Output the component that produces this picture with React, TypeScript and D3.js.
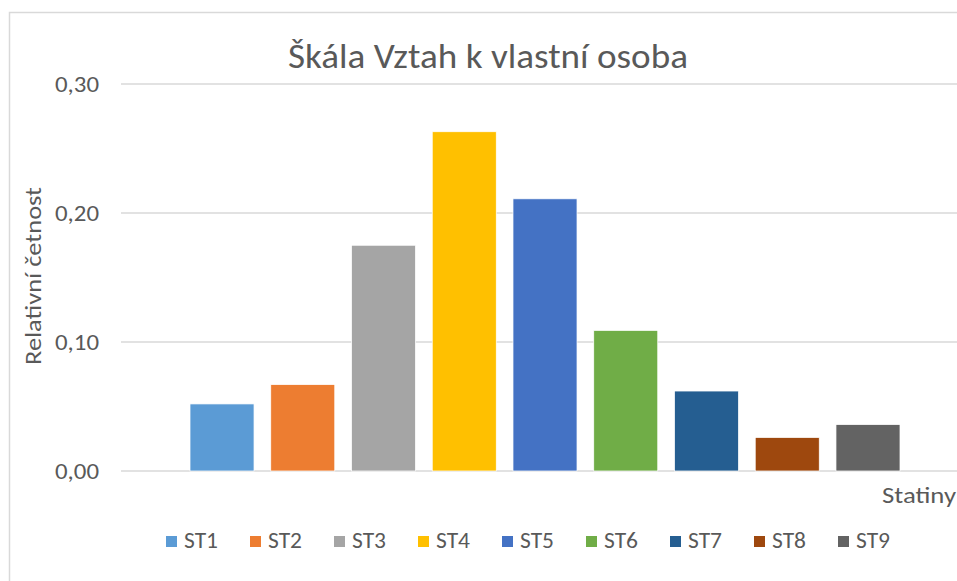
import React from "react";
import * as d3 from "d3";

const series = ["ST1", "ST2", "ST3", "ST4", "ST5", "ST6", "ST7", "ST8", "ST9"];
const values = [0.052, 0.067, 0.175, 0.263, 0.211, 0.109, 0.062, 0.026, 0.036];
const colors = ["#5B9BD5", "#ED7D31", "#A5A5A5", "#FFC000", "#4472C4", "#70AD47", "#255E91", "#9E480E", "#636363"];
const yTicks = [0, 0.1, 0.2, 0.3];
const title = "Škála Vztah k vlastní osoba";
const yTitle = "Relativní četnost";
const xTitle = "Statiny";

const W = 957;
const H = 581;
const FONT = "Calibri, Carlito, 'Open Sans', 'Liberation Sans', sans-serif";
const TXT = "#595959";

export default function App() {
  const y = d3.scaleLinear().domain([0, 0.3]).range([471, 84]);
  const x = d3.scaleBand<string>().domain(series).range([190, 900]).paddingInner(0.207).paddingOuter(0);
  const legendX = d3.scaleBand<string>().domain(series).range([166, 922]).paddingInner(0).paddingOuter(0);
  const fmt = (v: number) => d3.format(".2f")(v).replace(".", ",");

  return (
    <svg width={W} height={H} style={{ position: "absolute", left: 0, top: 0, display: "block", background: "#fff" }} fontFamily={FONT}>
      <rect x={9.5} y={12.5} width={W + 10} height={H + 10} fill="#fff" stroke="#d9d9d9" strokeWidth={1.5} />
      <text x={488} y={68} textAnchor="middle" fontSize={35} fill={TXT} textLength={400} lengthAdjust="spacingAndGlyphs">{title}</text>
      {yTicks.map((t) => (
        <g key={t}>
          <line x1={121} x2={W} y1={y(t)} y2={y(t)} stroke="#d9d9d9" strokeWidth={1.5} />
          <text x={99} y={y(t) + 8} textAnchor="end" fontSize={23} fill={TXT} textLength={44} lengthAdjust="spacingAndGlyphs">{fmt(t)}</text>
        </g>
      ))}
      {series.map((s, i) => (
        <rect key={s} x={x(s)} y={y(values[i])} width={x.bandwidth()} height={y(0) - y(values[i])} fill={colors[i]} stroke="#fff" strokeWidth={0.75} />
      ))}
      <text transform={`translate(41,276) rotate(-90)`} textAnchor="middle" fontSize={22} fill={TXT} textLength={178} lengthAdjust="spacingAndGlyphs">{yTitle}</text>
      <text x={956} y={503} textAnchor="end" fontSize={22} fill={TXT} textLength={74} lengthAdjust="spacingAndGlyphs">{xTitle}</text>
      {series.map((s, i) => (
        <g key={s} transform={`translate(${legendX(s)},0)`}>
          <rect x={0} y={536} width={11} height={11} fill={colors[i]} />
          <text x={18} y={548} fontSize={22} fill={TXT} textLength={34} lengthAdjust="spacingAndGlyphs">{s}</text>
        </g>
      ))}
    </svg>
  );
}
